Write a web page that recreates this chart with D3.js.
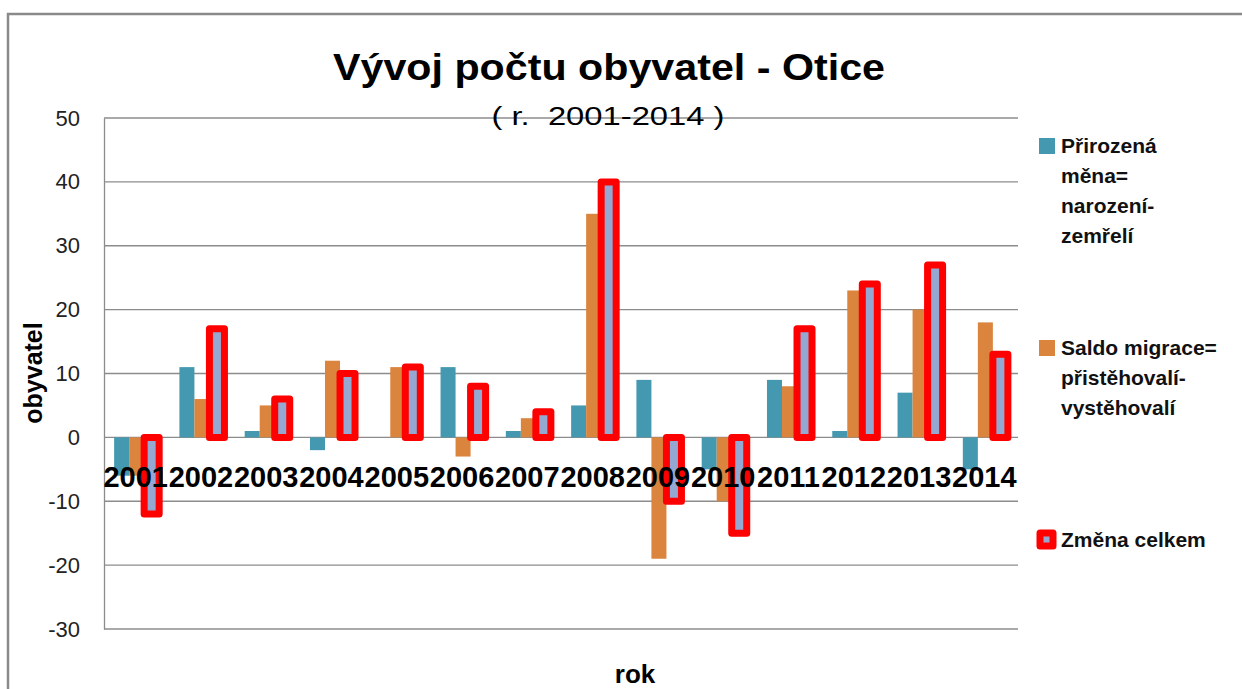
<!DOCTYPE html>
<html>
<head>
<meta charset="utf-8">
<script src="https://cdn.jsdelivr.net/npm/d3@7"></script>
<style>
  body { margin: 0; background: #fff; }
  svg { display: block; font-family: "Liberation Sans", Arial, sans-serif; }
</style>
</head>
<body>
<svg width="1242" height="689"></svg>
<script>
// data
var years = ['2001', '2002', '2003', '2004', '2005', '2006', '2007',
             '2008', '2009', '2010', '2011', '2012', '2013', '2014'];
var prirozena = [-6, 11, 1, -2, 0, 11, 1, 5, 9, -5, 9, 1, 7, -5];
var saldo = [-6, 6, 5, 12, 11, -3, 3, 35, -19, -10, 8, 23, 20, 18];
var zmena = [-12, 17, 6, 10, 11, 8, 4, 40, -10, -15, 17, 24, 27, 13];
var seriesNames = ['Přirozená měna= narození- zemřelí',
                   'Saldo migrace= přistěhovalí- vystěhovalí',
                   'Změna celkem'];
var yTicks = [-30, -20, -10, 0, 10, 20, 30, 40, 50];

var colors = ['#4499B0', '#DB843D', '#95A8D1'];

var svg = d3.select('svg');

// chart frame
svg.append('rect')
  .attr('x', 8).attr('y', 14)
  .attr('width', 1300).attr('height', 720)
  .attr('fill', 'none')
  .attr('stroke', '#8a8a8a')
  .attr('stroke-width', 2.5);

var plotLeft = 104, plotRight = 1018, plotTop = 118, plotBottom = 629;

var x0 = d3.scaleBand()
  .domain(years)
  .range([plotLeft, plotRight])
  .paddingInner(0.31)
  .paddingOuter(0.155);

var x1 = d3.scaleBand()
  .domain([0, 1, 2])
  .range([0, x0.bandwidth()]);

var y = d3.scaleLinear()
  .domain([-30, 50])
  .range([plotBottom, plotTop]);

// gridlines
svg.append('g')
  .selectAll('line')
  .data(yTicks)
  .enter()
  .append('line')
  .attr('x1', plotLeft).attr('x2', plotRight)
  .attr('y1', function(d) { return y(d); })
  .attr('y2', function(d) { return y(d); })
  .attr('stroke', '#8c8c8c')
  .attr('stroke-width', 1.3);

// y axis (plain hyphen for negatives, like the original)
var yAxis = svg.append('g')
  .attr('transform', 'translate(' + plotLeft + ',0)')
  .call(d3.axisLeft(y)
    .tickValues(yTicks)
    .tickFormat(function(d) { return String(d); })
    .tickSize(0)
    .tickPadding(24));
yAxis.select('.domain').attr('stroke', '#8c8c8c').attr('stroke-width', 1.3);
yAxis.selectAll('text')
  .attr('font-size', 22)
  .attr('font-family', '"Liberation Sans", Arial, sans-serif')
  .attr('fill', '#222');

var rows = years.map(function(yr, i) {
  return { year: yr, values: [prirozena[i], saldo[i], zmena[i]] };
});

var groups = svg.append('g')
  .selectAll('g')
  .data(rows)
  .enter()
  .append('g')
  .attr('transform', function(d) { return 'translate(' + x0(d.year) + ',0)'; });

groups.selectAll('rect')
  .data(function(d) { return d.values.map(function(v, k) { return { k: k, v: v }; }); })
  .enter()
  .append('rect')
  .attr('x', function(d) { return x1(d.k); })
  .attr('width', x1.bandwidth())
  .attr('y', function(d) { return y(Math.max(0, d.v)); })
  .attr('height', function(d) { return Math.abs(y(d.v) - y(0)); })
  .attr('fill', function(d) { return colors[d.k]; })
  .attr('stroke', function(d) { return d.k === 2 ? '#ff0000' : 'none'; })
  .attr('stroke-width', function(d) { return d.k === 2 ? 7 : 0; })
  .attr('stroke-linejoin', 'round');

// category labels, drawn over the bars like the original
svg.append('g')
  .selectAll('text')
  .data(years)
  .enter()
  .append('text')
  .attr('x', function(d) { return x0(d) + x0.bandwidth() / 2 - 1; })
  .attr('y', 487)
  .attr('text-anchor', 'middle')
  .attr('font-size', 29)
  .attr('font-weight', 'bold')
  .attr('fill', '#000')
  .text(function(d) { return d; });

// titles
svg.append('text')
  .attr('x', 609).attr('y', 80)
  .attr('text-anchor', 'middle')
  .attr('font-size', 36)
  .attr('font-weight', 'bold')
  .attr('textLength', 552)
  .attr('lengthAdjust', 'spacingAndGlyphs')
  .text('Vývoj počtu obyvatel - Otice');

svg.append('text')
  .attr('x', 608).attr('y', 125)
  .attr('text-anchor', 'middle')
  .attr('font-size', 26)
  .attr('textLength', 233)
  .attr('lengthAdjust', 'spacingAndGlyphs')
  .style('white-space', 'pre')
  .text('( r.  2001-2014 )');

svg.append('text')
  .attr('transform', 'translate(42,373) rotate(-90)')
  .attr('text-anchor', 'middle')
  .attr('font-size', 25)
  .attr('font-weight', 'bold')
  .text('obyvatel');

svg.append('text')
  .attr('x', 635).attr('y', 683)
  .attr('text-anchor', 'middle')
  .attr('font-size', 26)
  .attr('font-weight', 'bold')
  .text('rok');

// legend
var legendLines = [
  ['Přirozená', 'měna=', 'narození-', 'zemřelí'],
  ['Saldo migrace=', 'přistěhovalí-', 'vystěhovalí'],
  ['Změna celkem']
];
var legendTop = [153, 355, 547];

var legend = svg.append('g')
  .selectAll('g')
  .data(legendLines)
  .enter()
  .append('g');

legend.append('rect')
  .attr('x', function(d, i) { return i === 2 ? 1040 : 1039; })
  .attr('y', function(d, i) { return i === 2 ? legendTop[i] - 14 : legendTop[i] - 15; })
  .attr('width', function(d, i) { return i === 2 ? 13 : 16; })
  .attr('height', function(d, i) { return i === 2 ? 13 : 16; })
  .attr('fill', function(d, i) { return colors[i]; })
  .attr('stroke', function(d, i) { return i === 2 ? '#ff0000' : 'none'; })
  .attr('stroke-width', function(d, i) { return i === 2 ? 7 : 0; })
  .attr('stroke-linejoin', 'round');

legend.selectAll('text')
  .data(function(d, i) { return d.map(function(t, j) { return { t: t, y: legendTop[i] + j * 30 }; }); })
  .enter()
  .append('text')
  .attr('x', 1061)
  .attr('y', function(d) { return d.y; })
  .attr('font-size', 21)
  .attr('font-weight', 'bold')
  .attr('fill', '#111')
  .text(function(d) { return d.t; });
</script>
</body>
</html>
